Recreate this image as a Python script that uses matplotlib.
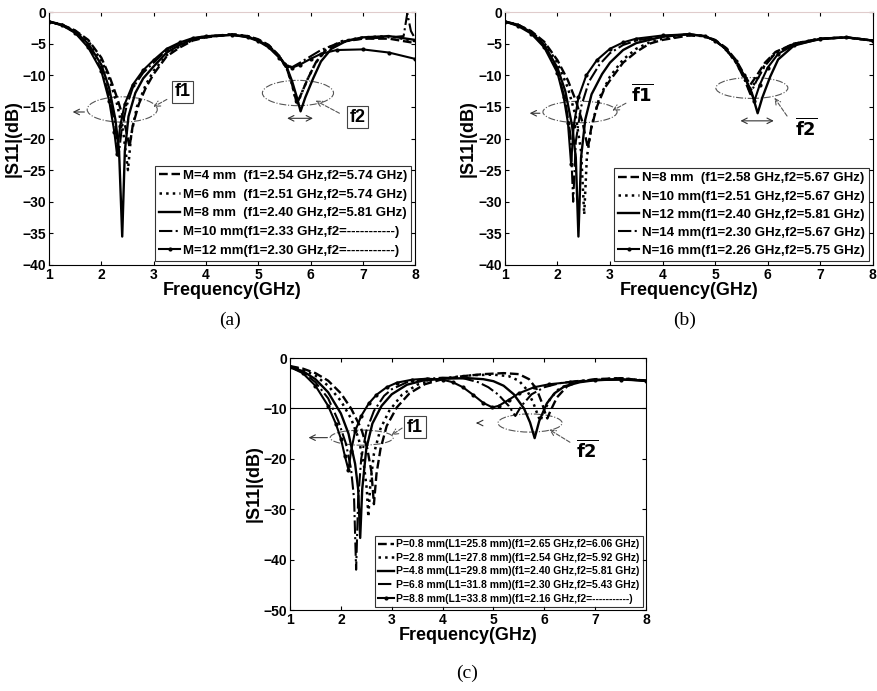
import matplotlib
matplotlib.use("Agg")
from matplotlib import pyplot as plt
from matplotlib.patches import Ellipse

plt.rcParams['font.family'] = ['Liberation Sans', 'DejaVu Sans']

# ---------------- panel (a): M sweep ----------------
a_labels = ["M=4 mm  (f1=2.54 GHz,f2=5.74 GHz)",
            "M=6 mm  (f1=2.51 GHz,f2=5.74 GHz)",
            "M=8 mm  (f1=2.40 GHz,f2=5.81 GHz)",
            "M=10 mm(f1=2.33 GHz,f2=-----------)",
            "M=12 mm(f1=2.30 GHz,f2=-----------)"]

a_m4_f = [1.0, 1.25, 1.5, 1.75, 2.0, 2.15, 2.3, 2.43, 2.54, 2.6, 2.72, 2.85, 3.0, 3.25, 3.5, 3.75, 4.0, 4.5, 4.8, 5.0,
          5.2, 5.4, 5.55, 5.65, 5.74, 5.82, 5.95, 6.1, 6.3, 6.6, 7.0, 7.5, 8.0]
a_m4_s = [-1.5, -2.0, -2.9, -4.4, -7.2, -10, -13.5, -17, -21.3, -18, -14.5, -12, -9.8, -7.0, -5.6, -4.5, -4.0, -3.5, -3.8, -4.3,
          -5.2, -6.9, -9.0, -11.5, -14.5, -13.0, -10.5, -8.0, -5.9, -4.7, -4.2, -4.2, -4.9]

a_m6_f = [1.0, 1.25, 1.5, 1.75, 2.0, 2.15, 2.3, 2.42, 2.51, 2.57, 2.68, 2.85, 3.0, 3.25, 3.5, 3.75, 4.0, 4.5, 4.8, 5.0,
          5.2, 5.4, 5.55, 5.65, 5.74, 5.82, 5.95, 6.1, 6.3, 6.6, 7.0, 7.5, 8.0]
a_m6_s = [-1.5, -2.0, -3.0, -4.6, -7.6, -10.5, -14.5, -19, -25, -19.5, -15, -11.5, -9.3, -6.8, -5.4, -4.4, -3.9, -3.5, -3.8, -4.4,
          -5.3, -7.0, -9.0, -11.5, -14.8, -13.0, -10.5, -8.0, -5.8, -4.6, -4.0, -3.8, -4.6]

a_m8_f = [1.0, 1.25, 1.5, 1.75, 2.0, 2.15, 2.27, 2.34, 2.40, 2.45, 2.52, 2.65, 2.8, 3.0, 3.25, 3.5, 3.75, 4.0, 4.5, 4.8,
          5.0, 5.2, 5.4, 5.55, 5.65, 5.74, 5.81, 5.9, 6.05, 6.2, 6.4, 6.7, 7.0, 7.5, 8.0]
a_m8_s = [-1.5, -2.0, -3.1, -5.0, -8.3, -12, -17, -22, -35.5, -22, -16.5, -12.8, -10.5, -8.6, -6.4, -5.2, -4.3, -3.9, -3.6, -3.9,
          -4.5, -5.4, -7.0, -8.8, -11, -13.5, -15.7, -13.5, -10.5, -7.8, -5.8, -4.5, -4.0, -3.8, -4.4]

a_m10_f = [1.0, 1.25, 1.5, 1.75, 2.0, 2.15, 2.27, 2.33, 2.39, 2.48, 2.6, 2.8, 3.0, 3.25, 3.5, 3.75, 4.0, 4.5, 4.8, 5.0,
           5.2, 5.4, 5.55, 5.65, 5.8, 6.0, 6.2, 6.5, 6.8, 7.0, 7.5, 7.78, 7.85, 7.92, 8.0]
a_m10_s = [-1.5, -2.1, -3.2, -5.4, -9.0, -13.2, -18, -22.8, -18.5, -15, -12, -9.6, -8.0, -6.0, -4.9, -4.2, -3.8, -3.6, -3.9, -4.5,
           -5.5, -7.1, -8.4, -8.7, -8.0, -7.0, -6.0, -5.0, -4.4, -4.2, -4.0, -3.8, -0.2, -3.0, -4.2]

a_m12_f = [1.0, 1.25, 1.5, 1.75, 2.0, 2.15, 2.25, 2.30, 2.36, 2.45, 2.6, 2.8, 3.0, 3.25, 3.5, 3.75, 4.0, 4.5, 4.8, 5.0,
           5.2, 5.4, 5.55, 5.65, 5.8, 6.0, 6.2, 6.5, 7.0, 7.5, 8.0]
a_m12_s = [-1.5, -2.1, -3.3, -5.6, -9.3, -14, -19, -22.5, -18, -14.5, -11.5, -9.2, -7.6, -5.8, -4.8, -4.1, -3.8, -3.6, -4.0, -4.6,
           -5.6, -7.2, -8.5, -8.8, -8.3, -7.4, -6.6, -6.0, -5.9, -6.4, -7.4]

# ---------------- panel (b): N sweep ----------------
b_labels = ["N=8 mm  (f1=2.58 GHz,f2=5.67 GHz)",
            "N=10 mm(f1=2.51 GHz,f2=5.67 GHz)",
            "N=12 mm(f1=2.40 GHz,f2=5.81 GHz)",
            "N=14 mm(f1=2.30 GHz,f2=5.67 GHz)",
            "N=16 mm(f1=2.26 GHz,f2=5.75 GHz)"]

b_n8_f = [1.0, 1.25, 1.5, 1.75, 2.0, 2.2, 2.35, 2.48, 2.58, 2.64, 2.75, 2.9, 3.0, 3.25, 3.5, 3.75, 4.0, 4.5, 4.8, 5.0,
          5.2, 5.4, 5.55, 5.67, 5.78, 5.95, 6.15, 6.5, 7.0, 7.5, 8.0]
b_n8_s = [-1.5, -2.0, -3.0, -4.7, -7.6, -10.8, -14, -17.5, -21.5, -18.5, -15, -12, -10.8, -8.0, -6.3, -5.0, -4.4, -3.7, -3.8, -4.4,
          -5.6, -7.6, -9.8, -11.5, -10.2, -8.0, -6.3, -5.0, -4.2, -4.0, -4.5]

b_n10_f = [1.0, 1.25, 1.5, 1.75, 2.0, 2.2, 2.35, 2.45, 2.51, 2.56, 2.65, 2.8, 3.0, 3.25, 3.5, 3.75, 4.0, 4.5, 4.8, 5.0,
           5.2, 5.4, 5.55, 5.67, 5.78, 5.95, 6.15, 6.5, 7.0, 7.5, 8.0]
b_n10_s = [-1.5, -2.0, -3.1, -4.9, -8.0, -12, -16.5, -22, -32, -23, -18, -13.5, -10.2, -7.5, -5.8, -4.8, -4.2, -3.6, -3.8, -4.5,
           -5.8, -8.0, -10.3, -12.5, -10.8, -8.3, -6.4, -5.0, -4.2, -4.0, -4.5]

b_n12_f = [1.0, 1.25, 1.5, 1.75, 2.0, 2.15, 2.28, 2.35, 2.40, 2.45, 2.53, 2.65, 2.85, 3.0, 3.25, 3.5, 4.0, 4.5, 4.8, 5.0,
           5.2, 5.4, 5.55, 5.7, 5.81, 5.9, 6.05, 6.2, 6.5, 7.0, 7.5, 8.0]
b_n12_s = [-1.5, -2.0, -3.2, -5.2, -8.8, -12.5, -18, -23, -35.5, -23, -17, -13, -9.8, -8.0, -6.0, -4.9, -3.9, -3.5, -3.8, -4.5,
           -5.8, -7.8, -10, -12.8, -16, -13.5, -10.2, -7.5, -5.3, -4.2, -4.0, -4.5]

b_n14_f = [1.0, 1.25, 1.5, 1.75, 2.0, 2.15, 2.25, 2.30, 2.35, 2.45, 2.6, 2.8, 3.0, 3.25, 3.5, 4.0, 4.5, 4.8, 5.0,
           5.2, 5.4, 5.55, 5.67, 5.78, 5.95, 6.15, 6.5, 7.0, 7.5, 8.0]
b_n14_s = [-1.5, -2.1, -3.3, -5.4, -9.2, -14, -19.5, -30, -20.5, -15, -11, -8.3, -6.5, -5.2, -4.5, -3.8, -3.5, -3.8, -4.5,
           -5.8, -8.0, -10.5, -13, -11, -8.5, -6.5, -5.0, -4.2, -4.0, -4.5]

b_n16_f = [1.0, 1.25, 1.5, 1.75, 2.0, 2.12, 2.2, 2.26, 2.31, 2.4, 2.55, 2.75, 3.0, 3.25, 3.5, 4.0, 4.5, 4.8, 5.0,
           5.2, 5.4, 5.55, 5.65, 5.75, 5.85, 6.0, 6.2, 6.5, 7.0, 7.5, 8.0]
b_n16_s = [-1.5, -2.2, -3.4, -5.6, -9.6, -13.5, -17.5, -24, -18, -13.5, -10, -7.6, -5.8, -4.8, -4.2, -3.7, -3.5, -3.8, -4.5,
           -5.8, -7.8, -10, -12, -14, -11.5, -8.8, -6.6, -5.2, -4.3, -4.0, -4.5]

# ---------------- panel (c): P sweep ----------------
c_labels = ["P=0.8 mm(L1=25.8 mm)(f1=2.65 GHz,f2=6.06 GHz)",
            "P=2.8 mm(L1=27.8 mm)(f1=2.54 GHz,f2=5.92 GHz)",
            "P=4.8 mm(L1=29.8 mm)(f1=2.40 GHz,f2=5.81 GHz)",
            "P=6.8 mm(L1=31.8 mm)(f1=2.30 GHz,f2=5.43 GHz)",
            "P=8.8 mm(L1=33.8 mm)(f1=2.16 GHz,f2=-----------)"]

c_p08_f = [1.0, 1.25, 1.5, 1.75, 2.0, 2.2, 2.4, 2.52, 2.6, 2.65, 2.7, 2.78, 2.9, 3.1, 3.35, 3.65, 4.0, 4.4, 4.8, 5.2,
           5.5, 5.7, 5.85, 5.95, 6.02, 6.06, 6.12, 6.25, 6.45, 6.7, 7.0, 7.5, 8.0]
c_p08_s = [-1.6, -2.1, -3.0, -4.5, -7.0, -10, -14, -18, -22.5, -29, -23, -18, -13.5, -9.8, -7.0, -5.2, -4.2, -3.6, -3.2, -3.0,
           -3.2, -4.2, -6.2, -8.8, -11, -12, -10.5, -7.8, -5.6, -4.6, -4.2, -4.0, -4.5]

c_p28_f = [1.0, 1.25, 1.5, 1.75, 2.0, 2.2, 2.35, 2.45, 2.51, 2.54, 2.58, 2.65, 2.78, 2.95, 3.2, 3.5, 3.8, 4.2, 4.6, 5.0,
           5.3, 5.5, 5.65, 5.78, 5.86, 5.92, 6.0, 6.12, 6.3, 6.6, 7.0, 7.5, 8.0]
c_p28_s = [-1.7, -2.3, -3.5, -5.5, -8.5, -12, -16, -21, -26, -31.5, -25, -19, -14, -10.5, -7.3, -5.3, -4.4, -3.8, -3.4, -3.3,
           -3.6, -4.5, -6.2, -8.8, -11, -12.5, -10.5, -8.0, -6.0, -4.8, -4.3, -4.0, -4.5]

c_p48_f = [1.0, 1.25, 1.5, 1.75, 2.0, 2.15, 2.28, 2.34, 2.38, 2.42, 2.5, 2.62, 2.8, 3.0, 3.3, 3.6, 4.0, 4.5, 4.8, 5.0,
           5.2, 5.4, 5.6, 5.72, 5.81, 5.9, 6.05, 6.2, 6.4, 6.7, 7.0, 7.5, 8.0]
c_p48_s = [-1.8, -2.6, -4.2, -6.8, -11, -15, -21, -26, -35.7, -26, -18, -13, -9.5, -7.2, -5.3, -4.5, -4.1, -4.0, -4.2, -4.6,
           -5.5, -7.2, -10, -12.8, -15.9, -12.5, -9.0, -7.0, -5.6, -4.8, -4.4, -4.2, -4.5]

c_p68_f = [1.0, 1.25, 1.5, 1.75, 1.95, 2.1, 2.2, 2.26, 2.30, 2.34, 2.4, 2.5, 2.65, 2.85, 3.0, 3.3, 3.6, 4.0, 4.4, 4.7,
           4.9, 5.1, 5.3, 5.43, 5.55, 5.75, 6.0, 6.3, 6.6, 7.0, 7.5, 8.0]
c_p68_s = [-1.8, -2.8, -4.8, -8.0, -12.5, -17, -22, -28, -42, -28, -20, -14.5, -10.5, -7.5, -6.2, -4.8, -4.2, -3.9, -4.0, -4.8,
           -5.8, -7.3, -9.5, -11.5, -9.5, -7.2, -5.8, -5.0, -4.6, -4.3, -4.2, -4.5]

c_p88_f = [1.0, 1.25, 1.5, 1.75, 1.9, 2.0, 2.08, 2.15, 2.2, 2.28, 2.4, 2.55, 2.7, 2.9, 3.1, 3.4, 3.7, 4.0, 4.2, 4.4,
           4.6, 4.8, 4.98, 5.1, 5.3, 5.5, 5.8, 6.1, 6.5, 7.0, 7.5, 8.0]
c_p88_s = [-1.8, -3.0, -5.5, -9.5, -13, -16, -19.5, -22.2, -18.5, -14.5, -11.5, -9.0, -7.3, -5.8, -4.9, -4.3, -4.1, -4.3, -4.8, -5.8,
           -7.3, -8.9, -9.8, -9.5, -8.3, -7.0, -5.8, -5.2, -4.8, -4.4, -4.3, -4.5]

styles = [dict(ls='--', lw=1.7), dict(ls=':', lw=1.8), dict(ls='-', lw=1.7),
          dict(ls='-.', lw=1.5), dict(ls='-', lw=1.5, marker='.', ms=4)]


def styleAxis(ax, ymin, ystep, faint_top):
    ax.set_xlim(1, 8)
    ax.set_ylim(ymin, 0)
    ax.set_xticks(range(1, 9))
    ax.set_yticks(range(ymin, 1, ystep))
    ax.tick_params(direction='in', length=3, top=True, right=True, labelsize=10, pad=2)
    for lab in ax.get_xticklabels() + ax.get_yticklabels():
        lab.set_fontweight('bold')
    if faint_top:
        ax.spines['top'].set_color('#e0cccc')
    ax.set_xlabel("Frequency(GHz)", fontsize=13, fontweight='bold', labelpad=0)
    ax.set_ylabel("|S11|(dB)", fontsize=13, fontweight='bold', labelpad=1)


def drawCurves(ax, curves, labels, fsize, spacing):
    for (f, s), st, lab in zip(curves, styles, labels):
        ax.plot(f, s, color='black', label=lab, **st)
    leg = ax.legend(loc='lower right', prop={'weight': 'bold', 'size': fsize},
                    frameon=True, fancybox=False, edgecolor='black', handlelength=1.6,
                    handletextpad=0.2, borderpad=0.3, labelspacing=spacing, borderaxespad=0.3)
    leg.get_frame().set_linewidth(0.8)


def marker(ax, ell, arrow_to, arrow_from, label, label_xy, dash_from, dash_to, box='full', double=None):
    ax.add_patch(Ellipse(ell[0], ell[1], ell[2], fill=False, ls='-.', lw=0.8, color='#555555'))
    if arrow_to is not None:
        ax.annotate('', xy=arrow_to, xytext=arrow_from,
                    arrowprops=dict(arrowstyle='->', lw=0.8, color='#333333'))
    if double is not None:
        ax.annotate('', xy=double[0], xytext=double[1],
                    arrowprops=dict(arrowstyle='<->', lw=0.8, color='#333333'))
    ax.annotate('', xy=dash_to, xytext=dash_from,
                arrowprops=dict(arrowstyle='->', lw=0.8, ls='--', color='#555555'))
    bbox = None
    if box == 'full':
        bbox = dict(facecolor='white', edgecolor='#444444', boxstyle='square,pad=0.15', lw=0.8)
    t = ax.text(label_xy[0], label_xy[1], label, fontsize=13, fontweight='bold',
                ha='center', va='center', bbox=bbox)
    if box == 'over':
        t.set_text(r'$\overline{\mathbf{%s}}$' % label)


fig = plt.figure(figsize=(8.78, 6.91), dpi=100)
axA = fig.add_axes([0.0558, 0.6165, 0.417, 0.366])
axB = fig.add_axes([0.575, 0.6165, 0.419, 0.366])
axC = fig.add_axes([0.3303, 0.1172, 0.4055, 0.3647])

drawCurves(axA, [(a_m4_f, a_m4_s), (a_m6_f, a_m6_s), (a_m8_f, a_m8_s), (a_m10_f, a_m10_s), (a_m12_f, a_m12_s)],
           a_labels, 9.5, 0.5)
styleAxis(axA, -40, 5, True)
marker(axA, ((2.4, -15.4), 1.34, 4.0), (1.4, -15.8), (1.73, -15.8), 'f1', (3.55, -12.6),
       (3.3, -13.6), (2.95, -15.2))
marker(axA, ((5.76, -12.8), 1.36, 4.0), None, None, 'f2', (6.9, -16.6),
       (6.6, -16.2), (6.05, -13.8), double=((5.5, -16.8), (6.1, -16.8)))

drawCurves(axB, [(b_n8_f, b_n8_s), (b_n10_f, b_n10_s), (b_n12_f, b_n12_s), (b_n14_f, b_n14_s), (b_n16_f, b_n16_s)],
           b_labels, 9.5, 0.45)
styleAxis(axB, -40, 5, True)
marker(axB, ((2.43, -15.8), 1.41, 3.4), (1.42, -16.0), (1.72, -16.0), 'f1', (3.62, -13.1),
       (3.35, -14.2), (3.0, -15.8), box='over')
marker(axB, ((5.7, -12.0), 1.37, 3.3), None, None, 'f2', (6.74, -18.4),
       (6.4, -16.8), (6.1, -13.2), box='over', double=((5.43, -17.2), (6.17, -17.2)))

drawCurves(axC, [(c_p08_f, c_p08_s), (c_p28_f, c_p28_s), (c_p48_f, c_p48_s), (c_p68_f, c_p68_s), (c_p88_f, c_p88_s)],
           c_labels, 7.5, 0.35)
styleAxis(axC, -50, 10, False)
axC.axhline(-10, color='black', lw=0.8)
marker(axC, ((2.41, -15.8), 1.24, 3.0), (1.31, -15.8), (1.79, -15.8), 'f1', (3.46, -13.7),
       (3.25, -13.6), (2.95, -15.6))
marker(axC, ((5.72, -12.9), 1.26, 3.6), (4.66, -12.9), (4.75, -12.9), 'f2', (6.84, -18.3),
       (6.55, -17.0), (6.05, -13.9), box='over')

fig.text(230 / 878, 1 - 320 / 691, "(a)", fontsize=14, family='Liberation Serif', ha='center', va='center')
fig.text(685 / 878, 1 - 320 / 691, "(b)", fontsize=14, family='Liberation Serif', ha='center', va='center')
fig.text(467 / 878, 1 - 673 / 691, "(c)", fontsize=14, family='Liberation Serif', ha='center', va='center')

fig.savefig("out.png", dpi=100)
